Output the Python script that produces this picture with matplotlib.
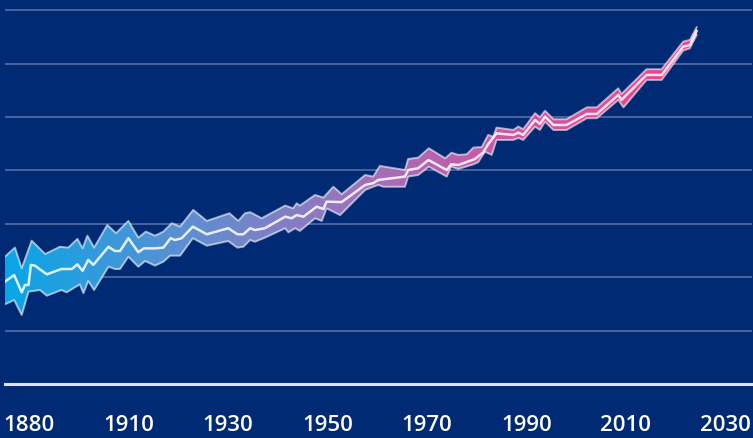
import numpy as np
import matplotlib
matplotlib.use("Agg")
import matplotlib.pyplot as plt
from matplotlib.colors import LinearSegmentedColormap

# temperature anomaly band (deg C)
upper_years = [1850.0, 1852.5, 1854.2, 1856.7, 1860.1, 1863.8, 1865.9, 1868.2, 1869.5, 1870.7,
               1872.4, 1875.7, 1877.9, 1881.0, 1883.5, 1885.4, 1887.7, 1889.8, 1891.9, 1894.0,
               1897.3, 1900.7, 1906.4, 1908.6, 1910.3, 1911.6, 1914.5, 1920.4, 1922.4, 1923.3,
               1924.1, 1927.9, 1930.0, 1932.5, 1934.6, 1940.5, 1942.5, 1944.2, 1950.5, 1951.3,
               1953.8, 1956.5, 1960.6, 1962.2, 1963.9, 1966.0, 1967.7, 1969.8, 1971.4, 1972.7,
               1973.5, 1977.7, 1979.0, 1980.2, 1983.2, 1984.4, 1985.7, 1987.8, 1991.1, 1996.2,
               1998.7, 2004.1, 2004.9, 2011.2, 2015.0, 2020.4, 2022.1, 2023.8]
upper_vals = [0.115, 0.166, 0.050, 0.205, 0.130, 0.171, 0.166, 0.215, 0.162, 0.233,
              0.166, 0.293, 0.247, 0.316, 0.222, 0.256, 0.233, 0.256, 0.303, 0.284,
              0.378, 0.316, 0.359, 0.316, 0.359, 0.365, 0.331, 0.402, 0.387, 0.415,
              0.402, 0.462, 0.447, 0.508, 0.466, 0.574, 0.565, 0.625, 0.602, 0.664,
              0.671, 0.724, 0.668, 0.699, 0.687, 0.690, 0.728, 0.731, 0.799, 0.789,
              0.840, 0.827, 0.846, 0.831, 0.921, 0.898, 0.935, 0.887, 0.887, 0.954,
              0.954, 1.061, 1.029, 1.168, 1.168, 1.323, 1.333, 1.404]

mid_years = [1850.0, 1852.3, 1854.2, 1855.0, 1855.9, 1856.5, 1857.5, 1860.5, 1864.2, 1866.8,
             1868.2, 1869.5, 1870.9, 1872.2, 1876.0, 1877.6, 1878.9, 1881.0, 1883.5, 1884.9,
             1887.7, 1889.8, 1891.6, 1892.7, 1894.4, 1897.2, 1900.7, 1906.1, 1908.4, 1909.9,
             1911.6, 1912.8, 1915.3, 1920.4, 1922.0, 1923.3, 1925.0, 1928.3, 1930.0, 1930.8,
             1934.6, 1940.5, 1942.5, 1943.8, 1950.5, 1951.3, 1953.8, 1956.4, 1961.0, 1962.1,
             1963.9, 1968.1, 1970.2, 1971.4, 1973.5, 1977.7, 1979.0, 1980.2, 1983.2, 1984.4,
             1985.7, 1987.8, 1991.1, 1996.2, 1998.7, 2004.1, 2004.9, 2011.2, 2015.0, 2020.4,
             2022.1, 2023.8]
mid_vals = [-0.025, 0.012, -0.085, -0.044, -0.044, 0.069, 0.065, 0.016, 0.046, 0.046,
            0.072, 0.035, 0.097, 0.069, 0.171, 0.147, 0.147, 0.219, 0.140, 0.162,
            0.162, 0.166, 0.219, 0.209, 0.219, 0.284, 0.241, 0.275, 0.241, 0.241,
            0.275, 0.265, 0.275, 0.340, 0.331, 0.349, 0.340, 0.396, 0.383, 0.424,
            0.422, 0.518, 0.528, 0.546, 0.565, 0.602, 0.612, 0.658, 0.602, 0.634,
            0.630, 0.664, 0.702, 0.747, 0.808, 0.799, 0.812, 0.799, 0.883, 0.861,
            0.902, 0.855, 0.855, 0.917, 0.917, 1.024, 0.996, 1.136, 1.136, 1.295,
            1.304, 1.383]

lower_years = [1850.0, 1852.3, 1854.2, 1855.9, 1858.8, 1860.5, 1864.2, 1865.5, 1868.8, 1869.7,
               1870.9, 1872.4, 1876.0, 1877.6, 1878.9, 1881.0, 1883.5, 1885.2, 1887.7, 1889.8,
               1891.5, 1894.0, 1897.2, 1900.7, 1906.1, 1908.4, 1909.9, 1911.6, 1912.8, 1915.3,
               1920.4, 1921.2, 1922.9, 1924.1, 1927.9, 1929.6, 1930.8, 1934.2, 1940.5, 1942.5,
               1943.8, 1945.1, 1950.5, 1951.3, 1953.8, 1956.5, 1961.0, 1962.1, 1963.9, 1967.7,
               1968.9, 1970.6, 1972.3, 1973.5, 1977.7, 1979.0, 1980.2, 1983.2, 1984.4, 1985.7,
               1987.8, 1991.1, 1996.2, 1998.7, 2004.1, 2005.4, 2011.2, 2015.0, 2020.4, 2022.1,
               2023.8]
lower_vals = [-0.152, -0.128, -0.212, -0.081, -0.072, -0.104, -0.072, -0.085, -0.040, -0.090,
              -0.021, -0.072, 0.059, 0.046, 0.046, 0.115, 0.059, 0.091, 0.065, 0.087,
              0.121, 0.121, 0.219, 0.177, 0.203, 0.166, 0.171, 0.209, 0.199, 0.222,
              0.275, 0.252, 0.275, 0.260, 0.331, 0.316, 0.387, 0.349, 0.490, 0.508,
              0.518, 0.508, 0.508, 0.565, 0.574, 0.621, 0.565, 0.621, 0.608, 0.634,
              0.646, 0.705, 0.687, 0.771, 0.771, 0.782, 0.771, 0.846, 0.827, 0.874,
              0.827, 0.827, 0.893, 0.893, 0.996, 0.954, 1.108, 1.108, 1.273, 1.286,
              1.361]

tick_labels = ["1880", "1910", "1930", "1950", "1970", "1990", "2010", "2030"]
tick_pos = np.linspace(1856, 2031, len(tick_labels))
grid_vals = np.arange(-0.3, 1.51, 0.3)

bg = "#002a74"
ymin, ymax = -0.6, 1.557
xmin, xmax = 1850, 2037.7

fig = plt.figure(figsize=(7.53, 4.38), dpi=100, facecolor=bg)
ax = fig.add_axes([5 / 753, 54 / 438, 747 / 753, 384 / 438])
ax.set_facecolor(bg)

# gradient band clipped to the uncertainty polygon
cmap = LinearSegmentedColormap.from_list(
    "band", ["#08a6e6", "#5a90d2", "#9a74bc", "#d2549f", "#f43f88"])
grad = np.linspace(0, 1, 256).reshape(1, -1)
im = ax.imshow(grad, extent=[upper_years[0], upper_years[-1], ymin, ymax],
               aspect="auto", cmap=cmap, origin="lower", zorder=3)
poly_x = np.concatenate([upper_years, lower_years[::-1]])
poly_y = np.concatenate([upper_vals, lower_vals[::-1]])
poly = ax.fill(poly_x, poly_y, facecolor="none", edgecolor="none", zorder=3)[0]
im.set_clip_path(poly)

ax.plot(upper_years, upper_vals, color="white", alpha=0.6, lw=1.4, zorder=4)
ax.plot(lower_years, lower_vals, color="white", alpha=0.6, lw=1.4, zorder=4)
ax.plot(mid_years, mid_vals, color="white", alpha=0.85, lw=1.8, zorder=5)

for g in grid_vals:
    ax.axhline(g, color="#5d72aa", lw=1.1, zorder=1)
ax.axhline(ymin, color="#dfe3ef", lw=2.2, zorder=2, clip_on=False)

ax.set_xlim(xmin, xmax)
ax.set_ylim(ymin, ymax)
ax.set_yticks([])
ax.set_xticks(tick_pos)
ax.set_xticklabels(tick_labels, family=["Open Sans", "DejaVu Sans"],
                   fontsize=16, fontweight="semibold", color="white")
ax.tick_params(axis="x", length=0, pad=22)
for s in ax.spines.values():
    s.set_visible(False)

fig.savefig("out.png", dpi=100, facecolor=bg)
